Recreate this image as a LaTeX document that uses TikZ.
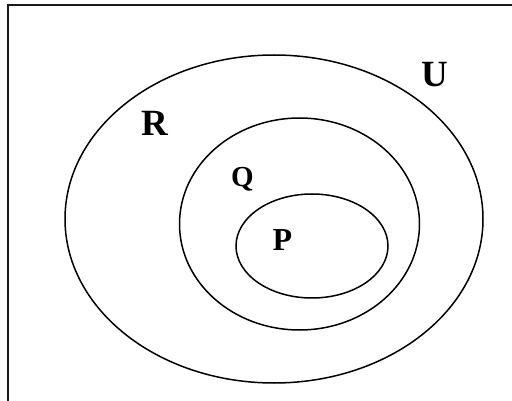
\documentclass[tikz,border=0pt]{standalone}
\usepackage{fontspec}
\setmainfont{Liberation Serif}
\usepackage{tikz}

\begin{document}
\begin{tikzpicture}[x=1pt,y=-1pt]
    \useasboundingbox (0,0) rectangle (512,401);
    \draw[line width=2pt, color=black!90] (8,401) -- (8,5) -- (512,5);

    \draw[line width=1.5pt] (274,219) ellipse (209 and 164);
    \draw[line width=1.5pt] (299.5,224) ellipse (120 and 106);
    \draw[line width=1.5pt] (312,246) ellipse (76 and 52);

    \node[anchor=base] (U) at (435,87) {\fontsize{37}{37}\selectfont\bfseries U};
    \node[anchor=base] (R) at (155,136) {\fontsize{37}{37}\selectfont\bfseries R};
    \node[anchor=base] (Q) at (242.5,187) {\fontsize{29}{29}\selectfont\bfseries Q};
    \node[anchor=base] (P) at (282.5,251) {\fontsize{32}{32}\selectfont\bfseries P};
\end{tikzpicture}
\end{document}
